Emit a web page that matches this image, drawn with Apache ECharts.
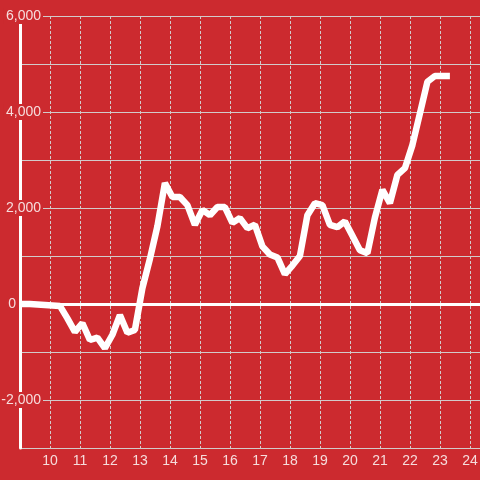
<!DOCTYPE html>
<html>
<head>
<meta charset="utf-8">
<script src="https://cdn.jsdelivr.net/npm/echarts@6/dist/echarts.min.js"></script>
<style>
html,body{margin:0;padding:0;background:#cc2a2f;}
#c{width:480px;height:480px;}
</style>
</head>
<body>
<div id="c"></div>
<script>
// Hours of the day (x) and values (y)
var hours = [9.0, 9.08, 9.33, 9.58, 9.83, 10.08, 10.33, 10.58, 10.83, 11.08, 11.33, 11.58, 11.83,
  12.08, 12.33, 12.58, 12.83, 13.08, 13.33, 13.58, 13.83, 14.08, 14.33, 14.58, 14.83,
  15.08, 15.33, 15.58, 15.83, 16.08, 16.33, 16.58, 16.83, 17.08, 17.33, 17.58, 17.83,
  18.08, 18.33, 18.58, 18.83, 19.08, 19.33, 19.58, 19.83, 20.08, 20.33, 20.58, 20.83,
  21.08, 21.33, 21.58, 21.83, 22.08, 22.33, 22.58, 22.83, 23.08, 23.33];
var values = [0, 0, 0, -10, -20, -30, -40, -300, -580, -400, -750, -700, -920,
  -640, -230, -600, -540, 330, 940, 1620, 2520, 2230, 2230, 2060, 1650,
  1960, 1850, 2020, 2020, 1690, 1790, 1580, 1650, 1200, 1030, 970, 620,
  800, 1000, 1850, 2100, 2060, 1650, 1600, 1720, 1420, 1120, 1060, 1800,
  2380, 2100, 2690, 2830, 3310, 3970, 4630, 4750, 4750, 4750];
var yLabelValues = [-2000, 0, 2000, 4000, 6000];
var xLabelValues = [10, 11, 12, 13, 14, 15, 16, 17, 18, 19, 20, 21, 22, 23, 24];

var BG = '#cc2a2f';
var TXT = '#f6dcdc';
var GRIDC = '#d2cbcb';

var seriesData = hours.map(function (h, i) { return [h, values[i]]; });

var chart = echarts.init(document.getElementById('c'), null, {renderer: 'canvas'});
chart.setOption({
  backgroundColor: BG,
  animation: false,
  grid: {left: 20, right: 0, top: 16, bottom: 32, containLabel: false, outerBoundsMode: 'none'},
  xAxis: {
    type: 'value', min: 9, max: 24.3333, interval: 1,
    axisLine: {show: false}, axisTick: {show: false},
    splitLine: {show: true, showMinLine: false, showMaxLine: false,
      lineStyle: {color: GRIDC, width: 1, type: [3, 2]}},
    axisLabel: {
      color: TXT, fontFamily: 'Liberation Sans', fontSize: 14, margin: 6,
      showMinLabel: false, showMaxLabel: false,
      formatter: function (v) { return xLabelValues.indexOf(v) >= 0 ? String(v) : ''; }
    }
  },
  yAxis: [{
    type: 'value', min: -3000, max: 6000, interval: 1000, position: 'left', z: 0,
    axisLine: {show: false}, axisTick: {show: false}, axisLabel: {show: false},
    splitLine: {show: true, lineStyle: {color: GRIDC, width: 1, type: 'solid'}}
  }, {
    type: 'value', min: -3000, max: 6000, interval: 1000, position: 'left', z: 1,
    axisLine: {show: true, onZero: false, lineStyle: {color: '#ffffff', width: 3}},
    axisTick: {show: false},
    splitLine: {show: false},
    axisLabel: {
      color: TXT, fontFamily: 'Liberation Sans', fontSize: 14, margin: -23, align: 'right',
      formatter: function (v) {
        if (yLabelValues.indexOf(v) < 0) return '';
        if (v === 0) return '{z|0}';
        return '{a|' + echarts.format.addCommas(v) + '}';
      },
      rich: {
        a: {color: TXT, fontFamily: 'Liberation Sans', fontSize: 14, backgroundColor: BG,
            padding: [1, 2, 1, 2], lineHeight: 14},
        z: {color: TXT, fontFamily: 'Liberation Sans', fontSize: 14, padding: [0, 27, 0, 0], lineHeight: 14}
      }
    }
  }],
  series: [{
    type: 'line', yAxisIndex: 0, data: seriesData, symbol: 'none',
    lineStyle: {color: '#ffffff', width: 6.5},
    markLine: {
      silent: true, symbol: 'none', label: {show: false},
      lineStyle: {color: '#ffffff', width: 3, type: 'solid'},
      data: [{yAxis: 0}]
    }
  }]
});
</script>
</body>
</html>
